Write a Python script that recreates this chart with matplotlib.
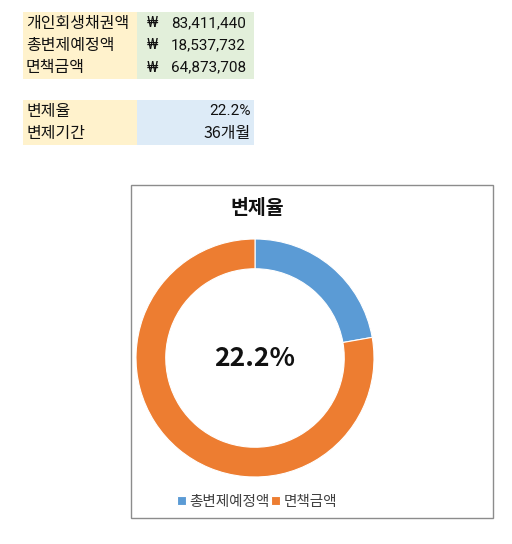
import matplotlib
matplotlib.use("Agg")
import matplotlib.pyplot as plt
from matplotlib.patches import Rectangle

plt.rcParams['font.family'] = ['Noto Sans CJK KR', 'DejaVu Sans']

# ---- data ----
debt_labels = ['개인회생채권액', '총변제예정액', '면책금액']
debt_amounts = [83411440, 18537732, 64873708]
info_labels = ['변제율', '변제기간']
info_values = ['22.2%', '36개월']
pie_labels = ['총변제예정액', '면책금액']
pie_values = [18537732, 64873708]
chart_title = '변제율'
center_text = '22.2%'

W, H = 512, 544
fig = plt.figure(figsize=(W / 100, H / 100), dpi=100)
bg = fig.add_axes([0, 0, 1, 1])
bg.set_xlim(0, W)
bg.set_ylim(H, 0)
bg.axis('off')

label_col = '#FFF2CC'
green_col = '#E2EFDA'
blue_col = '#DDEBF7'
fs = 11.5
numfam = ['Roboto', 'Noto Sans CJK KR', 'DejaVu Sans']

# table 1
top1, rh = 12, 22.3
bg.add_patch(Rectangle((23, top1), 114, rh * 3, color=label_col, lw=0))
bg.add_patch(Rectangle((137, top1), 117, rh * 3, color=green_col, lw=0))
for i, (lab, amt) in enumerate(zip(debt_labels, debt_amounts)):
    yc = top1 + rh * (i + 0.5)
    bg.text(26, yc, lab, fontsize=fs, va='center', ha='left', color='#111111')
    bg.text(147, yc, '₩', fontsize=11, va='center', ha='left', color='#111111', family=numfam)
    bg.text(246, yc, f'{amt:,}', fontsize=11, va='center', ha='right', color='#111111', family=numfam)

# table 2
top2 = 100
bg.add_patch(Rectangle((23, top2), 114, rh * 2, color=label_col, lw=0))
bg.add_patch(Rectangle((137, top2), 117, rh * 2, color=blue_col, lw=0))
for i, (lab, val) in enumerate(zip(info_labels, info_values)):
    yc = top2 + rh * (i + 0.5)
    bg.text(26, yc, lab, fontsize=fs, va='center', ha='left', color='#111111')
    bg.text(251, yc, val, fontsize=fs if i else 11, va='center', ha='right', color='#111111',
            family=numfam if i == 0 else None)

# chart box
bg.add_patch(Rectangle((131, 185), 362, 333, fill=False, ec='#8C8C8C', lw=1))
bg.text(257, 209, chart_title, fontsize=14, fontweight='bold', ha='center', va='center', color='#111111')

# donut
cx, cy, r = 255, 358, 119
pax = fig.add_axes([(cx - r) / W, (H - cy - r) / H, 2 * r / W, 2 * r / H])
wedges, _ = pax.pie(pie_values, colors=['#5B9BD5', '#ED7D31'], startangle=90, counterclock=False,
                    radius=1, wedgeprops=dict(width=0.25, edgecolor='white', linewidth=0.8))
pax.set_xlim(-1, 1)
pax.set_ylim(-1, 1)
pax.set_aspect('equal')
pax.axis('off')
pax.text(0, 0, center_text, fontsize=19, fontweight='bold', ha='center', va='center', color='#111111')

leg = fig.legend(wedges, pie_labels, loc='center', bbox_to_anchor=(257 / W, 1 - 502 / H), ncol=2,
                 frameon=False, fontsize=10.5, handlelength=0.6, handleheight=0.6, handletextpad=0.25,
                 columnspacing=0.1, labelcolor='#404040')

fig.savefig('out.png', dpi=100)
